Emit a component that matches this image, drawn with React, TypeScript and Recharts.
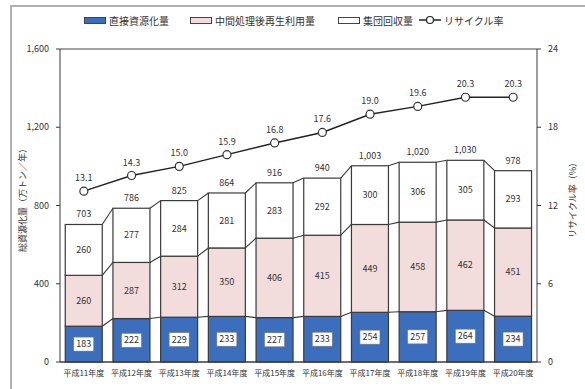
import React from 'react';
import { ComposedChart, Bar, Line, XAxis, YAxis, CartesianGrid, LabelList, Label } from 'recharts';

const categories = ['平成11年度', '平成12年度', '平成13年度', '平成14年度', '平成15年度', '平成16年度', '平成17年度', '平成18年度', '平成19年度', '平成20年度'];
const direct = [183, 222, 229, 233, 227, 233, 254, 257, 264, 234];
const intermediate = [260, 287, 312, 350, 406, 415, 449, 458, 462, 451];
const group = [260, 277, 284, 281, 283, 292, 300, 306, 305, 293];
const totals = [703, 786, 825, 864, 916, 940, 1003, 1020, 1030, 978];
const rates = [13.1, 14.3, 15.0, 15.9, 16.8, 17.6, 19.0, 19.6, 20.3, 20.3];
const leftTicks = [0, 400, 800, 1200, 1600];
const rightTicks = [0, 6, 12, 18, 24];

const data = categories.map((cat, i) => ({
  cat,
  direct: direct[i],
  intermediate: intermediate[i],
  group: group[i],
  total: totals[i],
  rate: rates[i],
}));

const W = 585;
const H = 389;
const M = { top: 49, right: 8, bottom: 7, left: 20 };
const YW = 40;
const PLOT_W = W - M.left - M.right - 2 * YW;
const STEP = PLOT_W / data.length;
const KEYS = ['direct', 'intermediate', 'group'] as const;
const FONT = '"Noto Sans CJK JP", "Noto Sans", sans-serif';
const BLUE = '#3b6fbd';
const PINK = '#f3dcdc';
const EDGE = '#3a3a3a';

function makeShape(segIdx: number, fill: string) {
  return (props: any) => {
    const { x, y, width, height, index } = props;
    const row: any = data[index];
    const key = KEYS[segIdx];
    const low = KEYS.slice(0, segIdx).reduce((s, k) => s + row[k], 0);
    const val = row[key];
    const ppu = val ? height / val : 0;
    const yb = y + height;
    const next: any = data[index + 1];
    let conn = null;
    if (next) {
      const cumNext = KEYS.slice(0, segIdx + 1).reduce((s, k) => s + next[k], 0);
      const yn = yb - (cumNext - low) * ppu;
      conn = <line x1={x + width} y1={y} x2={x + STEP} y2={yn} stroke={EDGE} strokeWidth={1.1} />;
    }
    return (
      <g>
        <rect x={x} y={y} width={width} height={height} fill={fill} stroke={EDGE} strokeWidth={1.2} />
        {conn}
      </g>
    );
  };
}

const BoxLabel = (props: any) => {
  const { x, y, width, height, value } = props;
  const cx = x + width / 2;
  const cy = y + height / 2;
  return (
    <g>
      <rect x={cx - 10} y={cy - 7} width={20} height={14} fill="#fff" stroke="#777" strokeWidth={0.6} />
      <text x={cx} y={cy} dy="0.35em" textAnchor="middle" fontSize={9} fill="#333" fontFamily={FONT}>{value}</text>
    </g>
  );
};

const CenterLabel = (props: any) => {
  const { x, y, width, height, value } = props;
  return (
    <text x={x + width / 2} y={y + height / 2} dy="0.35em" textAnchor="middle" fontSize={9} fill="#333" fontFamily={FONT}>{value}</text>
  );
};

const fmt = (v: number) => v.toLocaleString('en-US');

const legendItems = [
  { label: '直接資源化量', kind: 'rect', color: BLUE, left: 84 },
  { label: '中間処理後再生利用量', kind: 'rect', color: PINK, left: 190 },
  { label: '集団回収量', kind: 'rect', color: '#fff', left: 338 },
  { label: 'リサイクル率', kind: 'line', color: '#222', left: 419 },
];

export default function App() {
  return (
    <div style={{ position: 'fixed', left: 0, top: 0, width: W, height: H, background: '#fff', overflow: 'hidden', fontFamily: FONT }}>
      <div style={{ position: 'absolute', left: 10, top: 5, width: 600, height: 400, borderLeft: '2px solid #b0b0b0', borderTop: '2px solid #b0b0b0' }} />
      {legendItems.map((it) => (
        <div key={it.label} style={{ position: 'absolute', left: it.left, top: 12, height: 16, display: 'flex', alignItems: 'center', fontSize: 10, color: '#333', whiteSpace: 'nowrap' }}>
          {it.kind === 'rect' ? (
            <span style={{ display: 'inline-block', width: 20, height: 5, background: it.color, border: '1px solid #444', marginRight: 3 }} />
          ) : (
            <svg width={22} height={10} style={{ marginRight: 3 }}>
              <line x1={0} y1={5} x2={22} y2={5} stroke="#222" strokeWidth={1.5} />
              <circle cx={11} cy={5} r={3.5} fill="#fff" stroke="#222" strokeWidth={1.2} />
            </svg>
          )}
          <span>{it.label}</span>
        </div>
      ))}
      <ComposedChart width={W} height={H} data={data} margin={M} barCategoryGap="11%" style={{ position: 'absolute', left: 0, top: 0 }}>
        <CartesianGrid vertical={false} stroke="#444" strokeWidth={1} />
        <XAxis dataKey="cat" tickLine={false} tickSize={0} tickMargin={8} height={20} axisLine={{ stroke: EDGE }} interval={0}
          tick={{ fontSize: 8, fill: '#333', fontFamily: FONT }} />
        <YAxis yAxisId="l" domain={[0, 1600]} ticks={leftTicks} width={YW} tickSize={4} tickMargin={7} tickFormatter={fmt}
          axisLine={{ stroke: EDGE }} tickLine={{ stroke: EDGE }} tick={{ fontSize: 9, fill: '#333', fontFamily: FONT }}>
          <Label content={() => (
            <text x={22} y={198} transform="rotate(-90 22 198)" textAnchor="middle" dominantBaseline="central" fontSize={9} fill="#333" fontFamily={FONT}>総資源化量（万トン／年）</text>
          )} />
        </YAxis>
        <YAxis yAxisId="r" orientation="right" domain={[0, 24]} ticks={rightTicks} width={YW} tickSize={4} tickMargin={7}
          axisLine={{ stroke: EDGE }} tickLine={{ stroke: EDGE }} tick={{ fontSize: 9, fill: '#333', fontFamily: FONT }}>
          <Label content={() => (
            <text x={572} y={198} transform="rotate(-90 572 198)" textAnchor="middle" dominantBaseline="central" fontSize={9} fill="#333" fontFamily={FONT}>リサイクル率（%）</text>
          )} />
        </YAxis>
        <Bar yAxisId="l" dataKey="direct" stackId="a" fill={BLUE} isAnimationActive={false} shape={makeShape(0, BLUE)}>
          <LabelList dataKey="direct" content={BoxLabel} />
        </Bar>
        <Bar yAxisId="l" dataKey="intermediate" stackId="a" fill={PINK} isAnimationActive={false} shape={makeShape(1, PINK)}>
          <LabelList dataKey="intermediate" content={CenterLabel} />
        </Bar>
        <Bar yAxisId="l" dataKey="group" stackId="a" fill="#fff" isAnimationActive={false} shape={makeShape(2, '#fff')}>
          <LabelList dataKey="group" content={CenterLabel} />
          <LabelList dataKey="total" position="top" offset={7} formatter={(v: any) => fmt(Number(v))}
            style={{ fontSize: 9, fill: '#333', fontFamily: FONT }} />
        </Bar>
        <Line yAxisId="r" dataKey="rate" stroke="#222" strokeWidth={1.5} isAnimationActive={false}
          dot={{ r: 4, fill: '#fff', stroke: '#333', strokeWidth: 1.2 }}>
          <LabelList dataKey="rate" position="top" offset={10} formatter={(v: any) => Number(v).toFixed(1)}
            style={{ fontSize: 9, fill: '#333', fontFamily: FONT }} />
        </Line>
      </ComposedChart>
    </div>
  );
}
